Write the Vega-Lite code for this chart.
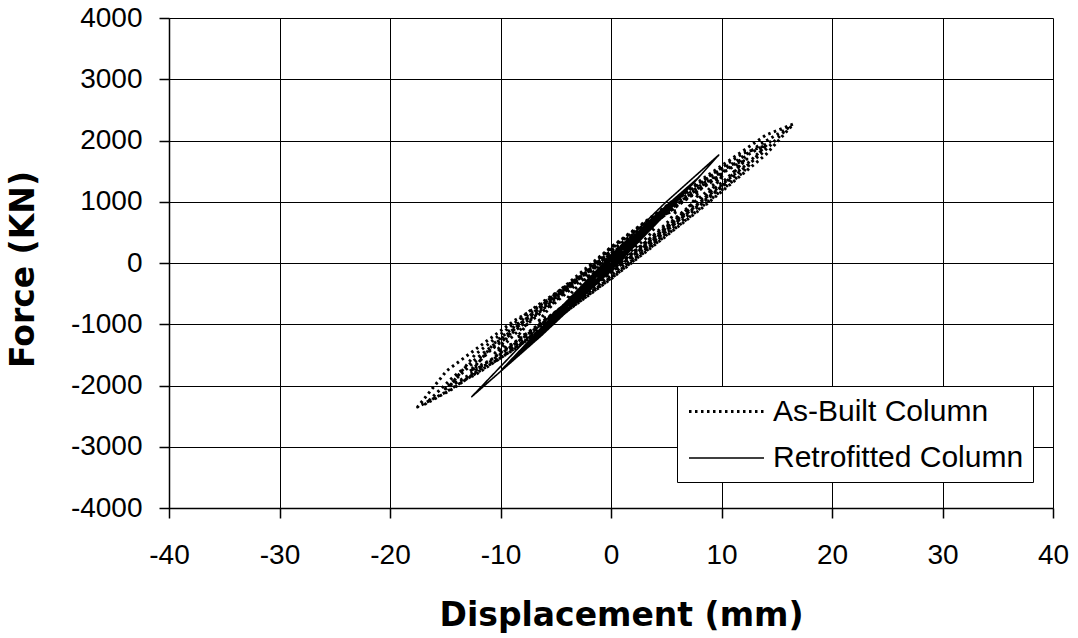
{
  "$schema": "https://vega.github.io/schema/vega-lite/v6.json",
  "width": 884,
  "height": 490,
  "autosize": {"type": "none"},
  "padding": {"left": 169, "top": 18, "right": 25, "bottom": 130},
  "background": "white",
  "config": {"view": {"stroke": null}, "font": "Liberation Sans"},
  "data": {"values": [
    {"series":"As-Built Column","n":1,"disp":0,"force":40},
    {"series":"As-Built Column","n":2,"disp":1,"force":186},
    {"series":"As-Built Column","n":3,"disp":1.7,"force":285},
    {"series":"As-Built Column","n":4,"disp":2,"force":300},
    {"series":"As-Built Column","n":5,"disp":1.7,"force":226},
    {"series":"As-Built Column","n":6,"disp":1,"force":114},
    {"series":"As-Built Column","n":7,"disp":0,"force":-40},
    {"series":"As-Built Column","n":8,"disp":-1,"force":-190},
    {"series":"As-Built Column","n":9,"disp":-1.7,"force":-279},
    {"series":"As-Built Column","n":10,"disp":-2,"force":-305},
    {"series":"As-Built Column","n":11,"disp":-1.7,"force":-231},
    {"series":"As-Built Column","n":12,"disp":-1,"force":-110},
    {"series":"As-Built Column","n":13,"disp":0,"force":80},
    {"series":"As-Built Column","n":14,"disp":2,"force":364},
    {"series":"As-Built Column","n":15,"disp":3.4,"force":552},
    {"series":"As-Built Column","n":16,"disp":4,"force":584},
    {"series":"As-Built Column","n":17,"disp":3.4,"force":440},
    {"series":"As-Built Column","n":18,"disp":2,"force":220},
    {"series":"As-Built Column","n":19,"disp":0,"force":-85},
    {"series":"As-Built Column","n":20,"disp":-2,"force":-364},
    {"series":"As-Built Column","n":21,"disp":-3.4,"force":-540},
    {"series":"As-Built Column","n":22,"disp":-4,"force":-590},
    {"series":"As-Built Column","n":23,"disp":-3.4,"force":-448},
    {"series":"As-Built Column","n":24,"disp":-2,"force":-212},
    {"series":"As-Built Column","n":25,"disp":0,"force":120},
    {"series":"As-Built Column","n":26,"disp":3,"force":540},
    {"series":"As-Built Column","n":27,"disp":5.1,"force":812},
    {"series":"As-Built Column","n":28,"disp":6,"force":864},
    {"series":"As-Built Column","n":29,"disp":5.1,"force":662},
    {"series":"As-Built Column","n":30,"disp":3,"force":318},
    {"series":"As-Built Column","n":31,"disp":0,"force":-120},
    {"series":"As-Built Column","n":32,"disp":-3.25,"force":-576},
    {"series":"As-Built Column","n":33,"disp":-5.525,"force":-862},
    {"series":"As-Built Column","n":34,"disp":-6.5,"force":-936},
    {"series":"As-Built Column","n":35,"disp":-5.525,"force":-724},
    {"series":"As-Built Column","n":36,"disp":-3.25,"force":-366},
    {"series":"As-Built Column","n":37,"disp":0,"force":160},
    {"series":"As-Built Column","n":38,"disp":4,"force":712},
    {"series":"As-Built Column","n":39,"disp":6.8,"force":1070},
    {"series":"As-Built Column","n":40,"disp":8,"force":1136},
    {"series":"As-Built Column","n":41,"disp":6.8,"force":862},
    {"series":"As-Built Column","n":42,"disp":4,"force":424},
    {"series":"As-Built Column","n":43,"disp":0,"force":-160},
    {"series":"As-Built Column","n":44,"disp":-4.25,"force":-748},
    {"series":"As-Built Column","n":45,"disp":-7.225,"force":-1130},
    {"series":"As-Built Column","n":46,"disp":-8.5,"force":-1207},
    {"series":"As-Built Column","n":47,"disp":-7.225,"force":-920},
    {"series":"As-Built Column","n":48,"disp":-4.25,"force":-460},
    {"series":"As-Built Column","n":49,"disp":0,"force":200},
    {"series":"As-Built Column","n":50,"disp":5,"force":880},
    {"series":"As-Built Column","n":51,"disp":8.5,"force":1318},
    {"series":"As-Built Column","n":52,"disp":10,"force":1400},
    {"series":"As-Built Column","n":53,"disp":8.5,"force":1062},
    {"series":"As-Built Column","n":54,"disp":5,"force":520},
    {"series":"As-Built Column","n":55,"disp":0,"force":-200},
    {"series":"As-Built Column","n":56,"disp":-5.25,"force":-915},
    {"series":"As-Built Column","n":57,"disp":-8.925,"force":-1378},
    {"series":"As-Built Column","n":58,"disp":-10.5,"force":-1470},
    {"series":"As-Built Column","n":59,"disp":-8.925,"force":-1110},
    {"series":"As-Built Column","n":60,"disp":-5.25,"force":-555},
    {"series":"As-Built Column","n":61,"disp":0,"force":100},
    {"series":"As-Built Column","n":62,"disp":5.1,"force":815},
    {"series":"As-Built Column","n":63,"disp":8.67,"force":1275},
    {"series":"As-Built Column","n":64,"disp":10.2,"force":1445},
    {"series":"As-Built Column","n":65,"disp":8.67,"force":1168},
    {"series":"As-Built Column","n":66,"disp":5.1,"force":622},
    {"series":"As-Built Column","n":67,"disp":0,"force":-104},
    {"series":"As-Built Column","n":68,"disp":-5.15,"force":-816},
    {"series":"As-Built Column","n":69,"disp":-8.755,"force":-1300},
    {"series":"As-Built Column","n":70,"disp":-10.3,"force":-1452},
    {"series":"As-Built Column","n":71,"disp":-8.755,"force":-1168},
    {"series":"As-Built Column","n":72,"disp":-5.15,"force":-640},
    {"series":"As-Built Column","n":73,"disp":0,"force":230},
    {"series":"As-Built Column","n":74,"disp":6,"force":1041},
    {"series":"As-Built Column","n":75,"disp":10.2,"force":1562},
    {"series":"As-Built Column","n":76,"disp":12,"force":1668},
    {"series":"As-Built Column","n":77,"disp":10.2,"force":1272},
    {"series":"As-Built Column","n":78,"disp":6,"force":627},
    {"series":"As-Built Column","n":79,"disp":0,"force":-230},
    {"series":"As-Built Column","n":80,"disp":-6.25,"force":-1076},
    {"series":"As-Built Column","n":81,"disp":-10.625,"force":-1622},
    {"series":"As-Built Column","n":82,"disp":-12.5,"force":-1738},
    {"series":"As-Built Column","n":83,"disp":-10.625,"force":-1320},
    {"series":"As-Built Column","n":84,"disp":-6.25,"force":-662},
    {"series":"As-Built Column","n":85,"disp":0,"force":120},
    {"series":"As-Built Column","n":86,"disp":6.15,"force":962},
    {"series":"As-Built Column","n":87,"disp":10.455,"force":1510},
    {"series":"As-Built Column","n":88,"disp":12.3,"force":1697},
    {"series":"As-Built Column","n":89,"disp":10.455,"force":1378},
    {"series":"As-Built Column","n":90,"disp":6.15,"force":736},
    {"series":"As-Built Column","n":91,"disp":0,"force":-118},
    {"series":"As-Built Column","n":92,"disp":-6.4,"force":-991},
    {"series":"As-Built Column","n":93,"disp":-10.88,"force":-1580},
    {"series":"As-Built Column","n":94,"disp":-12.8,"force":-1766},
    {"series":"As-Built Column","n":95,"disp":-10.88,"force":-1422},
    {"series":"As-Built Column","n":96,"disp":-6.4,"force":-780},
    {"series":"As-Built Column","n":97,"disp":0,"force":250},
    {"series":"As-Built Column","n":98,"disp":7,"force":1184},
    {"series":"As-Built Column","n":99,"disp":11.9,"force":1788},
    {"series":"As-Built Column","n":100,"disp":14,"force":1918},
    {"series":"As-Built Column","n":101,"disp":11.9,"force":1472},
    {"series":"As-Built Column","n":102,"disp":7,"force":734},
    {"series":"As-Built Column","n":103,"disp":0,"force":-250},
    {"series":"As-Built Column","n":104,"disp":-7.25,"force":-1218},
    {"series":"As-Built Column","n":105,"disp":-12.325,"force":-1832},
    {"series":"As-Built Column","n":106,"disp":-14.5,"force":-1987},
    {"series":"As-Built Column","n":107,"disp":-12.325,"force":-1500},
    {"series":"As-Built Column","n":108,"disp":-7.25,"force":-768},
    {"series":"As-Built Column","n":109,"disp":0,"force":130},
    {"series":"As-Built Column","n":110,"disp":7.2,"force":1110},
    {"series":"As-Built Column","n":111,"disp":12.24,"force":1750},
    {"series":"As-Built Column","n":112,"disp":14.4,"force":1980},
    {"series":"As-Built Column","n":113,"disp":12.24,"force":1605},
    {"series":"As-Built Column","n":114,"disp":7.2,"force":862},
    {"series":"As-Built Column","n":115,"disp":0,"force":-134},
    {"series":"As-Built Column","n":116,"disp":-7.5,"force":-1150},
    {"series":"As-Built Column","n":117,"disp":-12.75,"force":-1820},
    {"series":"As-Built Column","n":118,"disp":-15,"force":-2055},
    {"series":"As-Built Column","n":119,"disp":-12.75,"force":-1676},
    {"series":"As-Built Column","n":120,"disp":-7.5,"force":-905},
    {"series":"As-Built Column","n":121,"disp":0,"force":150},
    {"series":"As-Built Column","n":122,"disp":8,"force":1236},
    {"series":"As-Built Column","n":123,"disp":13.6,"force":1948},
    {"series":"As-Built Column","n":124,"disp":16,"force":2200},
    {"series":"As-Built Column","n":125,"disp":13.6,"force":1780},
    {"series":"As-Built Column","n":126,"disp":8,"force":956},
    {"series":"As-Built Column","n":127,"disp":0,"force":-152},
    {"series":"As-Built Column","n":128,"disp":-8.4,"force":-1280},
    {"series":"As-Built Column","n":129,"disp":-14.28,"force":-2050},
    {"series":"As-Built Column","n":130,"disp":-16.8,"force":-2302},
    {"series":"As-Built Column","n":131,"disp":-14.28,"force":-1860},
    {"series":"As-Built Column","n":132,"disp":-8.4,"force":-1020},
    {"series":"As-Built Column","n":133,"disp":0,"force":260},
    {"series":"As-Built Column","n":134,"disp":8.25,"force":1368},
    {"series":"As-Built Column","n":135,"disp":14.025,"force":2090},
    {"series":"As-Built Column","n":136,"disp":16.5,"force":2269},
    {"series":"As-Built Column","n":137,"disp":14.025,"force":1772},
    {"series":"As-Built Column","n":138,"disp":8.25,"force":900},
    {"series":"As-Built Column","n":139,"disp":0,"force":-260},
    {"series":"As-Built Column","n":140,"disp":-8.75,"force":-1409},
    {"series":"As-Built Column","n":141,"disp":-14.875,"force":-2100},
    {"series":"As-Built Column","n":142,"disp":-17.5,"force":-2350},
    {"series":"As-Built Column","n":143,"disp":-14.875,"force":-1760},
    {"series":"As-Built Column","n":144,"disp":-8.75,"force":-941},
    {"series":"As-Built Column","n":145,"disp":0,"force":0},
    {"series":"Retrofitted Column","n":1,"disp":0,"force":20},
    {"series":"Retrofitted Column","n":2,"disp":0.5,"force":111},
    {"series":"Retrofitted Column","n":3,"disp":1,"force":190},
    {"series":"Retrofitted Column","n":4,"disp":0.5,"force":79},
    {"series":"Retrofitted Column","n":5,"disp":0,"force":-20},
    {"series":"Retrofitted Column","n":6,"disp":-0.6,"force":-130},
    {"series":"Retrofitted Column","n":7,"disp":-1.2,"force":-228},
    {"series":"Retrofitted Column","n":8,"disp":-0.6,"force":-98},
    {"series":"Retrofitted Column","n":9,"disp":0,"force":30},
    {"series":"Retrofitted Column","n":10,"disp":1,"force":212},
    {"series":"Retrofitted Column","n":11,"disp":2,"force":376},
    {"series":"Retrofitted Column","n":12,"disp":1,"force":164},
    {"series":"Retrofitted Column","n":13,"disp":0,"force":-30},
    {"series":"Retrofitted Column","n":14,"disp":-1.25,"force":-259},
    {"series":"Retrofitted Column","n":15,"disp":-2.5,"force":-470},
    {"series":"Retrofitted Column","n":16,"disp":-1.25,"force":-211},
    {"series":"Retrofitted Column","n":17,"disp":0,"force":40},
    {"series":"Retrofitted Column","n":18,"disp":1.5,"force":311},
    {"series":"Retrofitted Column","n":19,"disp":3,"force":558},
    {"series":"Retrofitted Column","n":20,"disp":1.5,"force":247},
    {"series":"Retrofitted Column","n":21,"disp":0,"force":-40},
    {"series":"Retrofitted Column","n":22,"disp":-1.85,"force":-376},
    {"series":"Retrofitted Column","n":23,"disp":-3.7,"force":-688},
    {"series":"Retrofitted Column","n":24,"disp":-1.85,"force":-312},
    {"series":"Retrofitted Column","n":25,"disp":0,"force":50},
    {"series":"Retrofitted Column","n":26,"disp":2,"force":408},
    {"series":"Retrofitted Column","n":27,"disp":4,"force":736},
    {"series":"Retrofitted Column","n":28,"disp":2,"force":328},
    {"series":"Retrofitted Column","n":29,"disp":0,"force":-50},
    {"series":"Retrofitted Column","n":30,"disp":-2.5,"force":-500},
    {"series":"Retrofitted Column","n":31,"disp":-5,"force":-920},
    {"series":"Retrofitted Column","n":32,"disp":-2.5,"force":-420},
    {"series":"Retrofitted Column","n":33,"disp":0,"force":60},
    {"series":"Retrofitted Column","n":34,"disp":2.5,"force":503},
    {"series":"Retrofitted Column","n":35,"disp":5,"force":910},
    {"series":"Retrofitted Column","n":36,"disp":2.5,"force":407},
    {"series":"Retrofitted Column","n":37,"disp":0,"force":-60},
    {"series":"Retrofitted Column","n":38,"disp":-3.1,"force":-612},
    {"series":"Retrofitted Column","n":39,"disp":-6.2,"force":-1128},
    {"series":"Retrofitted Column","n":40,"disp":-3.1,"force":-516},
    {"series":"Retrofitted Column","n":41,"disp":0,"force":70},
    {"series":"Retrofitted Column","n":42,"disp":3,"force":596},
    {"series":"Retrofitted Column","n":43,"disp":6,"force":1080},
    {"series":"Retrofitted Column","n":44,"disp":3,"force":484},
    {"series":"Retrofitted Column","n":45,"disp":0,"force":-70},
    {"series":"Retrofitted Column","n":46,"disp":-3.75,"force":-731},
    {"series":"Retrofitted Column","n":47,"disp":-7.5,"force":-1350},
    {"series":"Retrofitted Column","n":48,"disp":-3.75,"force":-619},
    {"series":"Retrofitted Column","n":49,"disp":0,"force":80},
    {"series":"Retrofitted Column","n":50,"disp":3.5,"force":687},
    {"series":"Retrofitted Column","n":51,"disp":7,"force":1246},
    {"series":"Retrofitted Column","n":52,"disp":3.5,"force":559},
    {"series":"Retrofitted Column","n":53,"disp":0,"force":-80},
    {"series":"Retrofitted Column","n":54,"disp":-4.35,"force":-838},
    {"series":"Retrofitted Column","n":55,"disp":-8.7,"force":-1549},
    {"series":"Retrofitted Column","n":56,"disp":-4.35,"force":-710},
    {"series":"Retrofitted Column","n":57,"disp":0,"force":90},
    {"series":"Retrofitted Column","n":58,"disp":4,"force":776},
    {"series":"Retrofitted Column","n":59,"disp":8,"force":1408},
    {"series":"Retrofitted Column","n":60,"disp":4,"force":632},
    {"series":"Retrofitted Column","n":61,"disp":0,"force":-90},
    {"series":"Retrofitted Column","n":62,"disp":-4.9,"force":-934},
    {"series":"Retrofitted Column","n":63,"disp":-9.8,"force":-1725},
    {"series":"Retrofitted Column","n":64,"disp":-4.9,"force":-790},
    {"series":"Retrofitted Column","n":65,"disp":0,"force":120},
    {"series":"Retrofitted Column","n":66,"disp":4.875,"force":978},
    {"series":"Retrofitted Column","n":67,"disp":9.75,"force":1763},
    {"series":"Retrofitted Column","n":68,"disp":4.875,"force":786},
    {"series":"Retrofitted Column","n":69,"disp":0,"force":-120},
    {"series":"Retrofitted Column","n":70,"disp":-6.3,"force":-1186},
    {"series":"Retrofitted Column","n":71,"disp":-12.6,"force":-2183},
    {"series":"Retrofitted Column","n":72,"disp":-6.3,"force":-994},
    {"series":"Retrofitted Column","n":73,"disp":0,"force":0}
  ]},
  "mark": {"type": "line", "color": "black", "strokeJoin": "round"},
  "encoding": {
    "x": {
      "field": "disp", "type": "quantitative",
      "scale": {"domain": [-40, 40], "nice": false, "zero": false},
      "axis": {
        "values": [-40, -30, -20, -10, 0, 10, 20, 30, 40],
        "labelExpr": "'' + datum.value",
        "title": "Displacement (mm)",
        "grid": true, "gridColor": "black", "gridOpacity": 1, "gridWidth": 1,
        "domainColor": "black", "domainWidth": 1.5,
        "tickColor": "black", "tickWidth": 1.5, "tickSize": 10,
        "labelFont": "Liberation Sans", "labelFontSize": 28, "labelColor": "black",
        "labelPadding": 23, "labelFlush": false, "labelOverlap": false,
        "titleFont": "DejaVu Sans", "titleFontSize": 33, "titleFontWeight": "bold", "titleColor": "black",
        "titleBaseline": "alphabetic", "titleX": 452, "titleY": 117
      }
    },
    "y": {
      "field": "force", "type": "quantitative",
      "scale": {"domain": [-4000, 4000], "nice": false, "zero": false},
      "axis": {
        "values": [-4000, -3000, -2000, -1000, 0, 1000, 2000, 3000, 4000],
        "labelExpr": "'' + datum.value",
        "title": "Force (KN)",
        "grid": true, "gridColor": "black", "gridOpacity": 1, "gridWidth": 1,
        "domainColor": "black", "domainWidth": 1.5,
        "tickColor": "black", "tickWidth": 1.5, "tickSize": 10,
        "labelFont": "Liberation Sans", "labelFontSize": 28, "labelColor": "black",
        "labelPadding": 17, "labelFlush": false, "labelOverlap": false,
        "titleFont": "DejaVu Sans", "titleFontSize": 33, "titleFontWeight": "bold", "titleColor": "black",
        "titleBaseline": "alphabetic", "titleAngle": -90, "titleAlign": "center", "titleX": -136, "titleY": 251
      }
    },
    "order": {"field": "n", "type": "quantitative"},
    "strokeDash": {
      "field": "series", "type": "nominal",
      "scale": {"domain": ["As-Built Column", "Retrofitted Column"], "range": [[2.5, 3.5], [1, 0]]},
      "legend": {
        "title": null, "orient": "none", "legendX": 508, "legendY": 368,
        "fillColor": "white", "strokeColor": "black", "padding": 9,
        "symbolType": "M-2.5,0L2.5,0", "symbolSize": 900, "symbolOffset": 24,
        "symbolStrokeColor": "black", "symbolStrokeWidth": 1.5,
        "labelFont": "Liberation Sans", "labelFontSize": 30, "labelColor": "black", "labelOffset": 30,
        "labelLimit": 400, "rowPadding": 15
      }
    },
    "strokeWidth": {
      "field": "series", "type": "nominal",
      "scale": {"domain": ["As-Built Column", "Retrofitted Column"], "range": [3, 1.6]},
      "legend": null
    }
  }
}
